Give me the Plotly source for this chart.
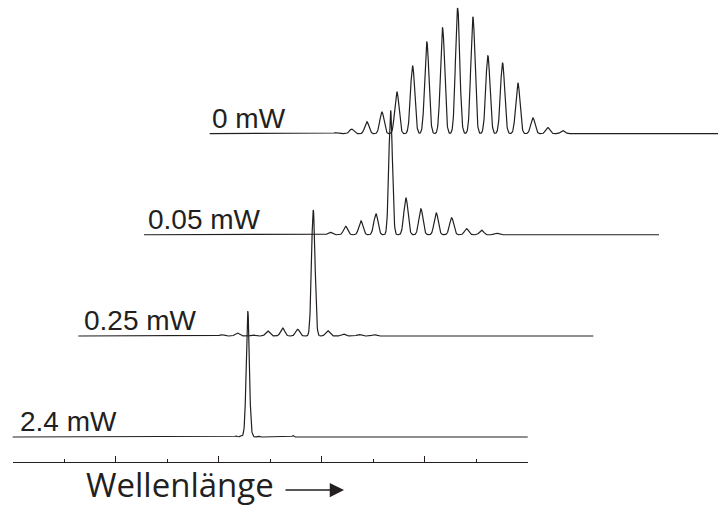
import numpy as np
import plotly.graph_objects as go

# ---- data ----
labels = ["2.4 mW", "0.25 mW", "0.05 mW", "0 mW"]
x_shift = [0.0, 1.275, 2.55, 3.825]      # waterfall offset along wavelength axis
y_shift = [0.0, 0.8016, 1.605, 2.407]    # waterfall offset in intensity

# peak positions (relative wavelength units) and normalised heights
p24_pos = [4.336, 4.433, 4.491, 4.565, 4.647, 4.763, 5.443]
p24_amp = [0.008, 0.012, 0.016, 1.000, 0.016, 0.008, 0.012]
p24_sig = [0.02, 0.02, 0.02, 0.03, 0.02, 0.02, 0.015]

p025_pos = [2.783, 3.085, 3.396, 3.676, 3.967, 4.258, 4.561, 4.841, 5.144, 5.450, 5.740]
p025_amp = [0.010, 0.024, 0.008, 0.040, 0.063, 0.053, 1.000, 0.042, 0.016, 0.012, 0.010]
p025_sig = [0.04] * 6 + [0.034] + [0.04] * 4

p005_pos = [3.610, 3.915, 4.212, 4.503, 4.788, 5.085, 5.376, 5.674, 5.973, 6.264, 6.555, 6.847]
p005_amp = [0.020, 0.067, 0.111, 0.167, 0.990, 0.294, 0.206, 0.175, 0.135, 0.048, 0.036, 0.012]
p005_sig = [0.04] * 4 + [0.034] + [0.04] * 7

p0_pos = [2.450, 2.755, 3.052, 3.344, 3.635, 3.940, 4.217, 4.522, 4.814, 5.111,
          5.402, 5.687, 5.984, 6.276, 6.567, 6.858]
p0_amp = [0.008, 0.037, 0.095, 0.172, 0.333, 0.540, 0.728, 0.841, 0.998, 0.929,
          0.619, 0.561, 0.405, 0.125, 0.048, 0.024]
p0_sig = [0.041] * 16

peak_sets = [(p24_pos, p24_amp, p24_sig),
             (p025_pos, p025_amp, p025_sig),
             (p005_pos, p005_amp, p005_sig),
             (p0_pos, p0_amp, p0_sig)]

axis_major = [0, 2, 4, 6, 8, 10]
axis_minor = [0, 1, 2, 3, 4, 5, 6, 7, 8, 9, 10]
axis_title = "Wellenlänge"

# ---- figure ----
INK = "#231f20"
W, H = 718, 508
px_per_x = 51.5
x0_px = 12.7
base_px = 437.0
px_per_y = 126.0

wl = np.linspace(0, 10, 2001)


def spectrum(x, pos, amp, sig):
    y = np.zeros_like(x)
    for p, a, s in zip(pos, amp, sig):
        y += a * np.exp(-0.5 * ((x - p) / s) ** 2)
    return y


fig = go.Figure()
for (pos, amp, sig), xs, ys in zip(peak_sets, x_shift, y_shift):
    fig.add_trace(go.Scatter(x=wl + xs, y=spectrum(wl, pos, amp, sig) + ys,
                             mode="lines", line=dict(color=INK, width=1.2),
                             hoverinfo="skip", showlegend=False))

# invisible carrier for the visible wavelength axis
fig.add_trace(go.Scatter(x=axis_minor, y=[None] * len(axis_minor), xaxis="x2", yaxis="y",
                         mode="lines", hoverinfo="skip", showlegend=False))

label_dx_px = [5, 4, 2, 0]
for lab, xs, ys, dx in zip(labels, x_shift, y_shift, label_dx_px):
    fig.add_annotation(x=xs + dx / px_per_x, y=ys, xref="x", yref="y",
                       text=lab, showarrow=False, xanchor="left", yanchor="bottom",
                       yshift=-2,
                       font=dict(family="Liberation Sans, Arial", size=28, color=INK))

fig.add_annotation(x=85 / W, y=0,
                   xref="paper", yref="paper", text=axis_title, showarrow=False,
                   xanchor="left", yanchor="bottom", borderpad=0,
                   font=dict(family="Open Sans", size=33, color=INK))

arrow_y = (base_px - 490) / px_per_y
fig.add_annotation(x=(344 - x0_px) / px_per_x, y=arrow_y,
                   ax=(284 - x0_px) / px_per_x, ay=arrow_y,
                   xref="x", yref="y", axref="x", ayref="y",
                   text="", showarrow=True, arrowhead=2, arrowsize=1.9,
                   arrowwidth=1.5, arrowcolor=INK, standoff=0)

fig.update_layout(
    width=W, height=H, margin=dict(l=0, r=0, t=0, b=0),
    paper_bgcolor="white", plot_bgcolor="rgba(0,0,0,0)",
    xaxis=dict(range=[-x0_px / px_per_x, (W - x0_px) / px_per_x], visible=False),
    yaxis=dict(range=[(base_px - H) / px_per_y, base_px / px_per_y], visible=False),
    xaxis2=dict(domain=[x0_px / W, (x0_px + 10 * px_per_x) / W], range=[0, 10],
                anchor="free", position=(H - 462.3) / H,
                showline=True, linecolor=INK, linewidth=1.2,
                ticks="inside", tickmode="array", tickvals=axis_major, ticklen=6,
                tickcolor=INK, tickwidth=1,
                minor=dict(tickmode="array", tickvals=axis_minor, ticks="inside",
                           ticklen=3, tickcolor=INK, tickwidth=1),
                showticklabels=False, showgrid=False, zeroline=False,
                fixedrange=True),
)

fig.write_html("out.html", config={"displayModeBar": False},
               post_script="document.body.style.margin='0';")
